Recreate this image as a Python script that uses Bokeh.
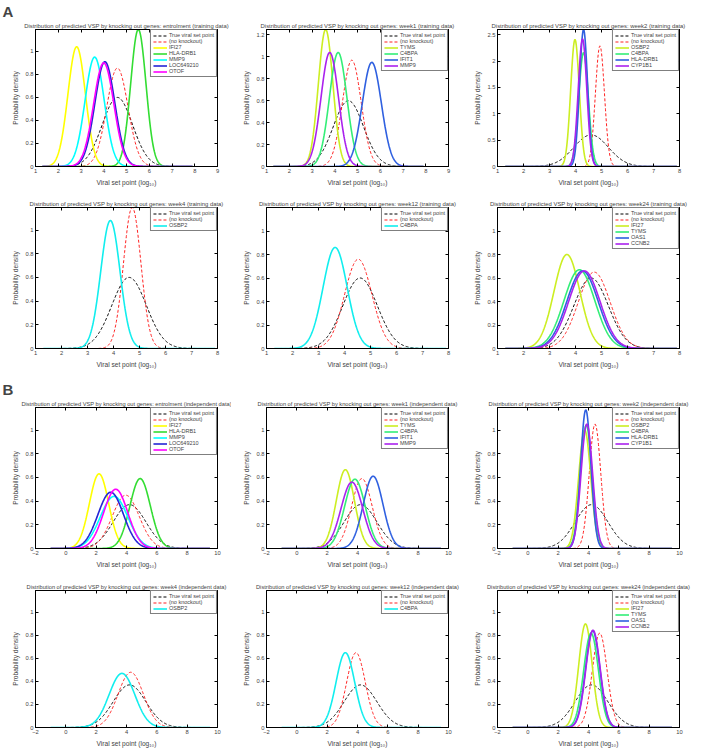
import numpy as np
from bokeh.plotting import figure
from bokeh.models import Range1d, FixedTicker, Title, LinearAxis
from bokeh.layouts import gridplot
from bokeh.embed import file_html
from bokeh.resources import INLINE

FONT = "Liberation Sans"

# ---------------- data ----------------
periods = ["entrolment", "week1", "week2", "week4", "week12", "week24"]

A_genes = [["IFI27", "HLA-DRB1", "MMP9", "LOC649210", "OTOF"],
           ["TYMS", "C4BPA", "IFIT1", "MMP9"],
           ["OSBP2", "C4BPA", "HLA-DRB1", "CYP1B1"],
           ["OSBP2"],
           ["C4BPA"],
           ["IFI27", "TYMS", "OAS1", "CCNB2"]]
# peak position (mean) and peak height of each fitted density
A_means = [[2.81, 5.52, 3.60, 4.05, 4.00],
           [3.60, 4.15, 5.63, 3.78],
           [3.98, 4.31, 4.31, 4.27],
           [3.88],
           [3.64],
           [3.67, 4.15, 4.27, 4.34]]
A_peaks = [[1.04, 1.19, 0.95, 0.91, 0.90],
           [1.25, 1.04, 0.95, 1.04],
           [2.41, 2.16, 2.60, 2.42],
           [1.08],
           [0.86],
           [0.80, 0.67, 0.66, 0.66]]
A_true_mean, A_true_peak = 4.6, 0.60
A_noko_means = [4.60, 4.75, 4.94, 4.72, 4.53, 4.72]
A_noko_peaks = [0.855, 0.97, 2.29, 1.19, 0.76, 0.65]
A_xmax = [9, 9, 8, 8, 8, 8]
A_ymax = [1.19, 1.25, 2.6, 1.19, 1.2, 1.2]
A_yticks = [[0, 0.2, 0.4, 0.6, 0.8, 1],
            [0, 0.2, 0.4, 0.6, 0.8, 1, 1.2],
            [0, 0.5, 1, 1.5, 2, 2.5],
            [0, 0.2, 0.4, 0.6, 0.8, 1],
            [0, 0.2, 0.4, 0.6, 0.8, 1],
            [0, 0.2, 0.4, 0.6, 0.8, 1]]

B_genes = A_genes
B_means = [[2.19, 4.90, 3.18, 2.96, 3.29],
           [3.20, 3.83, 5.03, 3.63],
           [3.75, 3.85, 3.82, 3.89],
           [3.70],
           [3.20],
           [3.80, 4.17, 4.28, 4.30]]
B_peaks = [[0.63, 0.59, 0.44, 0.475, 0.50],
           [0.665, 0.585, 0.61, 0.56],
           [1.00, 1.04, 1.17, 1.05],
           [0.47],
           [0.65],
           [0.90, 0.82, 0.84, 0.845]]
B_true_mean, B_true_peak = 4.2, 0.37
B_noko_means = [3.95, 4.29, 4.43, 4.28, 3.90, 4.74]
B_noko_peaks = [0.45, 0.59, 1.05, 0.48, 0.65, 0.82]
B_yticks = [0, 0.2, 0.4, 0.6, 0.8, 1]

A_xticks_9 = [1, 2, 3, 4, 5, 6, 7, 8, 9]
A_xticks_8 = [1, 2, 3, 4, 5, 6, 7, 8]
B_xticks = [-2, 0, 2, 4, 6, 8, 10]

colors5 = ["#ffff00", "#33dd33", "#00ffff", "#2525d5", "#ff00ff"]
colors4 = ["#ccee22", "#33ee77", "#2f60e0", "#aa22ee"]
colors1 = ["#11eeee"]

# ---------------- layout ----------------
W = 231
LEFT = 35
RIGHT = 14
ROWS = [  # (height, top border, bottom border)
    (188, 27, 20),
    (182, 19, 20),
    (200, 37, 20),
    (179, 20, 19),
]
TITLE_OFFSET = -9


def density(x, m, pk):
    sd = 1.0 / (pk * np.sqrt(2 * np.pi))
    return pk * np.exp(-0.5 * ((x - m) / sd) ** 2)


def colors_for(n):
    return colors5 if n == 5 else (colors4 if n == 4 else colors1)


def mirror_axis(ticks):
    ax = LinearAxis(ticker=FixedTicker(ticks=ticks), major_tick_in=3, major_tick_out=0,
                    minor_tick_line_color=None, major_label_text_font_size="0px",
                    major_label_standoff=0, axis_line_color="black",
                    major_tick_line_color="black")
    ax.major_label_overrides = {t: "" for t in ticks}
    return ax


def make_panel(title, tsize, xr, ymax, xticks, yticks, xgrid, true_m, true_pk,
               noko_m, noko_pk, genes, means, peaks, rowspec, letter=None):
    h, top, bottom = rowspec
    p = figure(width=W, height=h, x_range=Range1d(*xr), y_range=Range1d(0, ymax),
               output_backend="svg", toolbar_location=None,
               min_border_left=LEFT, min_border_right=RIGHT,
               min_border_top=top, min_border_bottom=bottom)
    xax = p.below[0]
    yax = p.left[0]
    p.add_layout(mirror_axis(xticks), "above")
    p.add_layout(mirror_axis(yticks), "right")
    p.add_layout(Title(text=title, align="center", text_font=FONT, offset=TITLE_OFFSET,
                       text_font_size=tsize, text_font_style="normal",
                       standoff=2), "above")
    if letter is not None:
        p.add_layout(Title(text=letter, align="left", offset=-LEFT + 2,
                           text_font=FONT, text_font_size="15px",
                           text_font_style="bold", standoff=0), "above")
    p.xgrid.visible = False
    p.ygrid.visible = False
    p.outline_line_color = "black"
    p.outline_line_alpha = 1
    p.outline_line_width = 0.8

    p.line(xgrid, density(xgrid, true_m, true_pk), color="black", line_width=1,
           line_dash="3 2", legend_label="True viral set point")
    p.line(xgrid, density(xgrid, noko_m, noko_pk), color="#ff2020", line_width=1,
           line_dash="3 2", legend_label="(no knockout)")
    cols = colors_for(len(genes))
    for g, m, pk, c in zip(genes, means, peaks, cols):
        p.line(xgrid, density(xgrid, m, pk), color=c, line_width=1.6, legend_label=g)

    for ax in (xax, yax):
        ax.major_tick_in = 3
        ax.major_tick_out = 0
        ax.minor_tick_line_color = None
        ax.axis_line_color = "black"
        ax.major_tick_line_color = "black"
        ax.major_label_text_font = FONT
        ax.major_label_text_font_size = "5.8px"
        ax.major_label_standoff = 2
        ax.axis_label_text_font = FONT
        ax.axis_label_text_font_size = "6.6px"
        ax.axis_label_text_font_style = "normal"
        ax.axis_label_standoff = 3
    xax.ticker = FixedTicker(ticks=xticks)
    yax.ticker = FixedTicker(ticks=yticks)
    yax.major_label_overrides = {t: f"{t:g}" for t in yticks}
    xax.axis_label = "Viral set point (log\u2081\u2080)"
    yax.axis_label = "Probability density"

    lg = p.legend[0]
    lg.location = "top_right"
    lg.margin = 0
    lg.padding = 2
    lg.spacing = 0
    lg.label_text_font = FONT
    lg.label_text_font_size = "5.5px"
    lg.label_height = 5
    lg.glyph_height = 5
    lg.glyph_width = 14
    lg.label_standoff = 2
    lg.border_line_color = "black"
    lg.border_line_width = 0.6
    lg.background_fill_alpha = 1
    return p


xA = np.linspace(1.3, 7.9, 400)
xB = np.linspace(-1.0, 9.5, 400)

panels = []
for i in range(6):
    letter = "A" if i == 0 else None
    panels.append(make_panel(
        f"Distribution of predicted VSP by knocking out genes: {periods[i]} (training data)",
        "5.9px",
        (1, A_xmax[i]), A_ymax[i], A_xticks_9 if A_xmax[i] == 9 else A_xticks_8,
        A_yticks[i], xA, A_true_mean, A_true_peak, A_noko_means[i], A_noko_peaks[i],
        A_genes[i], A_means[i], A_peaks[i], ROWS[i // 3], letter))
for i in range(6):
    letter = "B" if i == 0 else None
    panels.append(make_panel(
        f"Distribution of predicted VSP by knocking out genes: {periods[i]} (independent data)",
        "5.7px",
        (-2, 10), 1.19, B_xticks, B_yticks, xB, B_true_mean, B_true_peak,
        B_noko_means[i], B_noko_peaks[i], B_genes[i], B_means[i], B_peaks[i],
        ROWS[2 + i // 3], letter))

grid = gridplot([panels[0:3], panels[3:6], panels[6:9], panels[9:12]],
                toolbar_location=None)

open("out.html", "w").write(file_html(grid, INLINE))
